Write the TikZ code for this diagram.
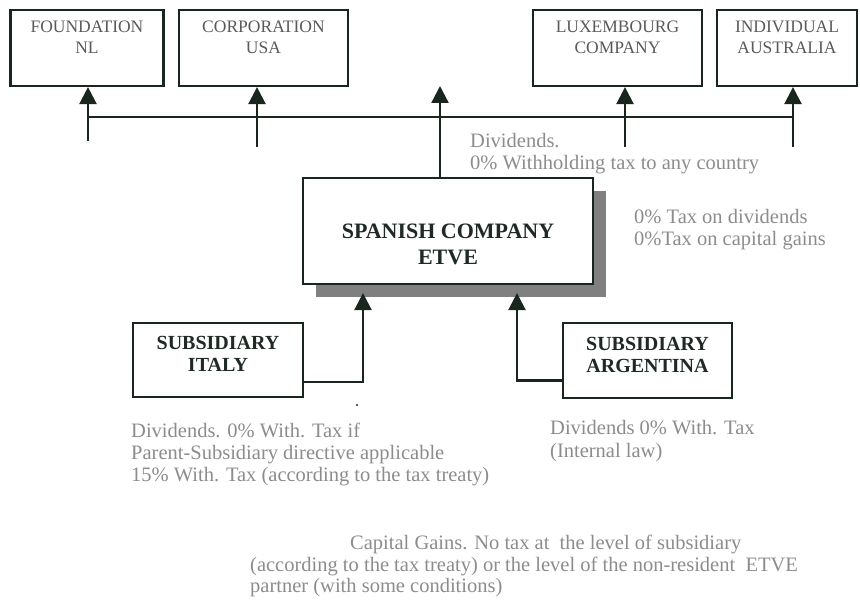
\documentclass[tikz,border=0pt]{standalone}
\usepackage{fontspec}
\setmainfont{Liberation Serif}
\usetikzlibrary{arrows.meta,shadows}

\definecolor{linegreen}{HTML}{18261E}
\definecolor{shadowgray}{HTML}{808080}
\definecolor{notegray}{HTML}{8C8C8C}
\definecolor{ownergray}{HTML}{5A5A5A}
\definecolor{namedark}{HTML}{1F2A24}

\tikzset{
    box/.style={draw=linegreen, line width=2.2pt, fill=white, inner sep=0pt},
    ownerbox/.style={box, minimum height=76pt},
    ownerlabel/.style={anchor=north, yshift=-12pt, align=center, inner sep=0pt,
        text=ownergray, font=\fontsize{17.5}{21}\selectfont},
    boldlabel/.style={anchor=center, align=center, inner sep=0pt,
        text=namedark, font=\fontsize{20}{22}\selectfont\bfseries},
    note/.style={anchor=north west, align=left, inner sep=0pt, text=notegray},
    wire/.style={draw=linegreen, line width=2.4pt},
    flow/.style={wire, -{Triangle[length=17pt, width=17pt]}}
}

\begin{document}
\begin{tikzpicture}[x=1pt, y=-1pt]
    \useasboundingbox (0,0) rectangle (860,612);

    % Draw the partners on top
    \node[ownerbox, minimum width=153pt, label={[ownerlabel]north:FOUNDATION\\NL}] (foundation) at (87,48) {};
    \node[ownerbox, minimum width=169pt, label={[ownerlabel]north:CORPORATION\\USA}] (corporation) at (263.5,48) {};
    \node[ownerbox, minimum width=169pt, label={[ownerlabel]north:LUXEMBOURG\\COMPANY}] (luxembourg) at (617.5,48) {};
    \node[ownerbox, minimum width=140pt, label={[ownerlabel]north:INDIVIDUAL\\AUSTRALIA}] (individual) at (787,48) {};

    % Draw the Spanish company and its shadow
    \node[box, general shadow={fill=shadowgray, shadow xshift=13pt, shadow yshift=-13pt},
        minimum width=290pt, minimum height=106pt,
        label={[boldlabel, yshift=-13pt, font=\fontsize{22}{26}\selectfont\bfseries]center:SPANISH COMPANY\\ETVE}] (spanish) at (448,231) {};

    % Draw the two subsidiaries
    \node[box, minimum width=170pt, minimum height=74pt,
        label={[boldlabel, yshift=6pt]center:SUBSIDIARY\\ITALY}] (italy) at (218,360) {};
    \node[box, minimum width=169pt, minimum height=75pt,
        label={[boldlabel, yshift=6pt]center:SUBSIDIARY\\ARGENTINA}] (argentina) at (647.5,360.5) {};

    % Ends of the lines to the partners
    \coordinate (fndfoot) at (88,141);
    \coordinate (corpfoot) at (257,147);
    \coordinate (luxfoot) at (625,147);
    \coordinate (indfoot) at (793,147);
    \coordinate (divtop) at (440,86);
    \coordinate (busleft) at (88,117);
    \coordinate (busright) at (793,117);

    % Dividends going up
    \draw[wire] (busleft) -- (busright);
    \draw[flow] (fndfoot) -- (fndfoot |- foundation.south);
    \draw[flow] (corpfoot) -- (corpfoot |- corporation.south);
    \draw[flow] (luxfoot) -- (luxfoot |- luxembourg.south);
    \draw[flow] (indfoot) -- (indfoot |- individual.south);
    \draw[flow] (spanish.north -| divtop) -- (divtop);

    % Dividends from the subsidiaries
    \draw[flow] ([yshift=-22pt]italy.east) -| ([xshift=-85pt, yshift=-8pt]spanish.south);
    \draw[flow] ([yshift=-20pt]argentina.west) -| ([xshift=69pt, yshift=-8pt]spanish.south);
    \fill[linegreen] (357,405) circle (1.2pt);

    % Notes
    \node[note, font=\fontsize{20.5}{22.5}\selectfont] (divnote) at (470,133)
        {Dividends.\\0\% Withholding tax to any country};
    \node[note, font=\fontsize{20.5}{22.5}\selectfont] (taxnote) at (634,209)
        {0\% Tax on dividends\\0\%Tax on capital gains};
    \node[note, font=\fontsize{20.5}{22}\selectfont] (italynote) at (131,423)
        {Dividends. 0\% With. Tax if\\Parent-Subsidiary directive applicable\\15\% With. Tax (according to the tax treaty)};
    \node[note, font=\fontsize{20.5}{23}\selectfont] (argnote) at (550,420)
        {Dividends 0\% With. Tax\\(Internal law)};
    \node[note, font=\fontsize{20.5}{21.5}\selectfont] (gainnote) at (250,535)
        {\hspace*{100pt}Capital Gains. No tax at\ \ the level of subsidiary\\(according to the tax treaty) or the level of the non-resident\ \ ETVE\\partner (with some conditions)};
\end{tikzpicture}
\end{document}
